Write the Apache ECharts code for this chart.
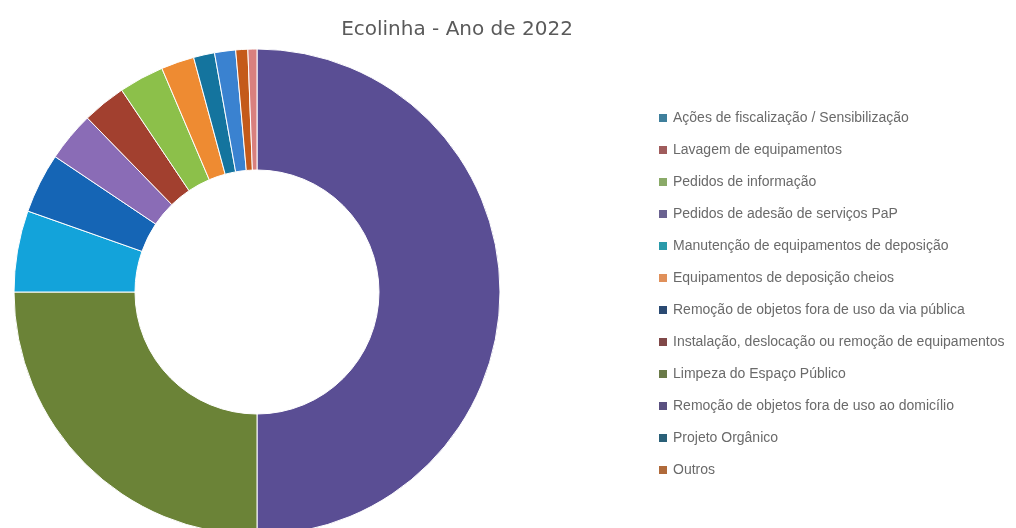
<!DOCTYPE html>
<html>
<head>
<meta charset="utf-8">
<script src="https://cdn.jsdelivr.net/npm/echarts@6/dist/echarts.min.js"></script>
<style>
html,body{margin:0;padding:0;background:#fff;}
#chart{width:1016px;height:528px;}
</style>
</head>
<body>
<div id="chart"></div>
<script>
// Slices in drawing order (clockwise from 12 o'clock)
const categories = [
  "Remoção de objetos fora de uso ao domicílio",
  "Limpeza do Espaço Público",
  "Manutenção de equipamentos de deposição",
  "Remoção de objetos fora de uso da via pública",
  "Pedidos de adesão de serviços PaP",
  "Instalação, deslocação ou remoção de equipamentos",
  "Pedidos de informação",
  "Equipamentos de deposição cheios",
  "Projeto Orgânico",
  "Ações de fiscalização / Sensibilização",
  "Outros",
  "Lavagem de equipamentos"
];
const values = [500, 250, 54, 40, 33, 29, 30, 22, 14, 14, 8, 6];

// Legend order as shown in the reference
const legendOrder = [
  "Ações de fiscalização / Sensibilização",
  "Lavagem de equipamentos",
  "Pedidos de informação",
  "Pedidos de adesão de serviços PaP",
  "Manutenção de equipamentos de deposição",
  "Equipamentos de deposição cheios",
  "Remoção de objetos fora de uso da via pública",
  "Instalação, deslocação ou remoção de equipamentos",
  "Limpeza do Espaço Público",
  "Remoção de objetos fora de uso ao domicílio",
  "Projeto Orgânico",
  "Outros"
];

const titleText = "Ecolinha - Ano de 2022";

// Styles
const sliceColors = {
  "Remoção de objetos fora de uso ao domicílio": "#5a4e94",
  "Limpeza do Espaço Público": "#6b8337",
  "Manutenção de equipamentos de deposição": "#13a3da",
  "Remoção de objetos fora de uso da via pública": "#1565b5",
  "Pedidos de adesão de serviços PaP": "#8a6cb6",
  "Instalação, deslocação ou remoção de equipamentos": "#a2402f",
  "Pedidos de informação": "#8cc04a",
  "Equipamentos de deposição cheios": "#ee8b32",
  "Projeto Orgânico": "#14749e",
  "Ações de fiscalização / Sensibilização": "#3a82d0",
  "Outros": "#c45a1a",
  "Lavagem de equipamentos": "#d9807e"
};
const legendColors = {
  "Ações de fiscalização / Sensibilização": "#3f7f9c",
  "Lavagem de equipamentos": "#a05c5c",
  "Pedidos de informação": "#8aaa68",
  "Pedidos de adesão de serviços PaP": "#6a6290",
  "Manutenção de equipamentos de deposição": "#2a9aaa",
  "Equipamentos de deposição cheios": "#e0905a",
  "Remoção de objetos fora de uso da via pública": "#2a4a72",
  "Instalação, deslocação ou remoção de equipamentos": "#804848",
  "Limpeza do Espaço Público": "#6a7a48",
  "Remoção de objetos fora de uso ao domicílio": "#5a5080",
  "Projeto Orgânico": "#2a6078",
  "Outros": "#b06a3a"
};

const chart = echarts.init(document.getElementById('chart'), null, {renderer: 'canvas'});
chart.setOption({
  animation: false,
  backgroundColor: '#ffffff',
  title: {
    text: titleText,
    left: 452,
    top: 15,
    textAlign: 'center',
    textStyle: {
      fontFamily: 'DejaVu Sans',
      fontSize: 20,
      fontWeight: 'normal',
      color: '#5a5a5a'
    }
  },
  legend: {
    orient: 'vertical',
    left: 652,
    top: 106,
    itemWidth: 10,
    itemHeight: 10,
    itemGap: 18,
    icon: 'rect',
    selectedMode: false,
    data: legendOrder.map(n => ({name: n, itemStyle: {color: legendColors[n]}})),
    textStyle: {
      fontFamily: 'Liberation Sans',
      fontSize: 14,
      color: '#6a6a6a',
      lineHeight: 14,
      padding: [0, 0, 0, 0]
    }
  },
  series: [{
    type: 'pie',
    center: [257, 292],
    radius: [122, 243],
    startAngle: 90,
    clockwise: true,
    avoidLabelOverlap: false,
    label: {show: false},
    labelLine: {show: false},
    emphasis: {disabled: true},
    itemStyle: {borderColor: '#ffffff', borderWidth: 1},
    data: categories.map((c, i) => ({
      name: c,
      value: values[i],
      itemStyle: {color: sliceColors[c]}
    }))
  }]
});
</script>
</body>
</html>
